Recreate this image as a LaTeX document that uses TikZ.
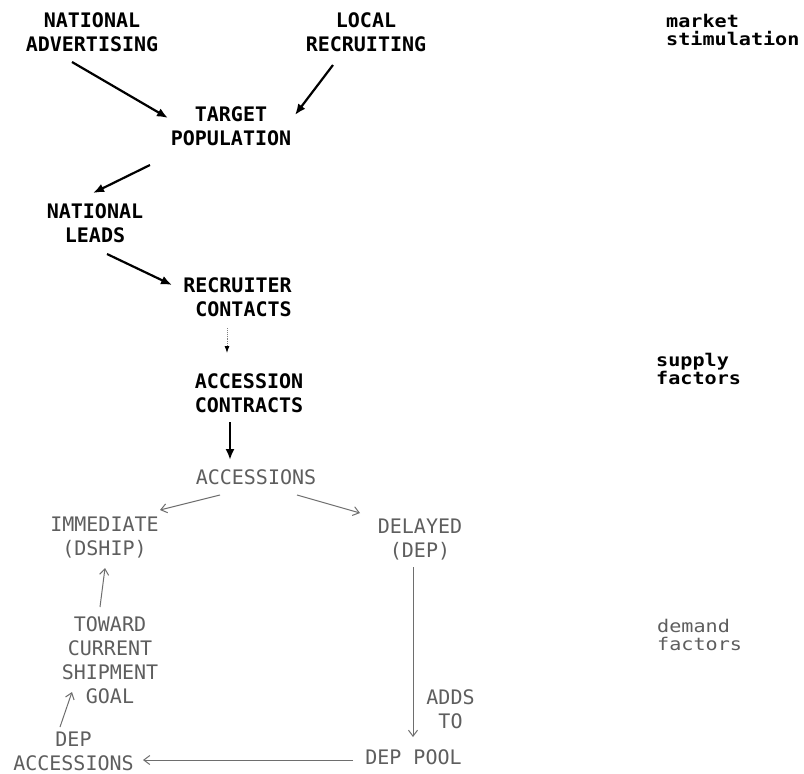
\documentclass[tikz,border=0pt]{standalone}
\usepackage{fontspec}
\usetikzlibrary{arrows.meta,calc}
\newfontfamily\dmono{DejaVu Sans Mono}
\newfontfamily\dwide[FakeStretch=1.15]{DejaVu Sans Mono}
\definecolor{textgray}{HTML}{5E5E5E}
\definecolor{linegray}{HTML}{6E6E6E}
\begin{document}
\begin{tikzpicture}[x=1pt,y=-1pt,
  up/.style={font=\dmono\bfseries\fontsize{20}{24}\selectfont, text=black, inner sep=0pt, align=center},
  low/.style={font=\dmono\fontsize{20}{24}\selectfont, text=textgray, inner sep=0pt, align=center},
  side/.style={font=\dwide\fontsize{17.5}{17.5}\selectfont, inner sep=0pt, align=left, anchor=north west},
  sidebold/.style={side, font=\dwide\bfseries\fontsize{17.5}{17.5}\selectfont},
  bigarrow/.style={line width=2.2pt, -{Latex[length=11pt,width=9pt]}},
  thinarrow/.style={draw=linegray, line width=1pt, -{Straight Barb[length=6pt,width=9pt]}},
  dotarrow/.style={line width=0.9pt, densely dotted, draw=gray, -{Latex[length=7pt,width=5pt,color=black]}}
]
\useasboundingbox (0,0) rectangle (804,774);
\fill[white] (0,0) rectangle (804,774);

% upper (black) nodes
\node[up] (natadv) at (92,32.5) {NATIONAL\\ADVERTISING};
\node[up] (locrec) at (366,32.5) {LOCAL\\RECRUITING};
\node[up] (target) at (231,126.5) {TARGET\\POPULATION};
\node[up] (leads) at (95,223) {NATIONAL\\LEADS};
\node[up, align=right] (reccont) at (237.5,297) {RECRUITER\\CONTACTS};
\node[up] (acccon) at (249,393) {ACCESSION\\CONTRACTS};

% lower (gray) nodes
\node[low] (acc) at (256,477.5) {ACCESSIONS};
\node[low] (imm) at (104.5,538) {IMMEDIATE\\(DSHIP)};
\node[low] (del) at (420,540) {DELAYED\\(DEP)};
\node[low] (toward) at (110,660) {TOWARD\\CURRENT\\SHIPMENT\\GOAL};
\node[low] (adds) at (450.5,709) {ADDS\\TO};
\node[low] (pool) at (413.5,757.5) {DEP POOL};
\node[low] (depacc) at (73.5,751.5) {DEP\\ACCESSIONS};

% side labels
\node[sidebold] (market) at (666,14.5) {market\\stimulation};
\node[sidebold] (supply) at (656,353) {supply\\factors};
\node[side, text=textgray] (demand) at (657,619) {demand\\factors};

% upper arrows
\draw[bigarrow] ($(natadv.center)+(-20,29.5)$) -- ($(target.center)+(-63,-8.5)$);
\draw[bigarrow] ($(locrec.center)+(-33,32.5)$) -- ($(target.center)+(64,-11.5)$);
\draw[bigarrow] ($(target.center)+(-81,38.5)$) -- ($(leads.center)+(-2,-30)$);
\draw[bigarrow] ($(leads.center)+(12,31)$) -- ($(reccont.center)+(-65.5,-12)$);
\draw[dotarrow] ($(reccont.center)+(-10.5,31)$) -- ($(acccon.center)+(-22,-40)$);
\draw[bigarrow] ($(acccon.center)+(-19,29)$) -- ($(acc.center)+(-26,-17.5)$);

% lower arrows
\draw[thinarrow] ($(acc.center)+(-36,17.5)$) -- ($(imm.center)+(55.5,-28)$);
\draw[thinarrow] ($(acc.center)+(41,17.5)$) -- ($(del.center)+(-60,-27)$);
\draw[thinarrow] ($(del.center)+(-7,27)$) -- ($(pool.center)+(-0.5,-20.5)$);
\draw[thinarrow] ($(pool.center)+(-60.5,2.5)$) -- ($(depacc.center)+(69.5,8.5)$);
\draw[thinarrow] ($(depacc.center)+(-13.5,-24.5)$) -- ($(toward.center)+(-38,32)$);
\draw[thinarrow] ($(toward.center)+(-10,-53)$) -- ($(imm.center)+(0.5,30)$);
\end{tikzpicture}
\end{document}
